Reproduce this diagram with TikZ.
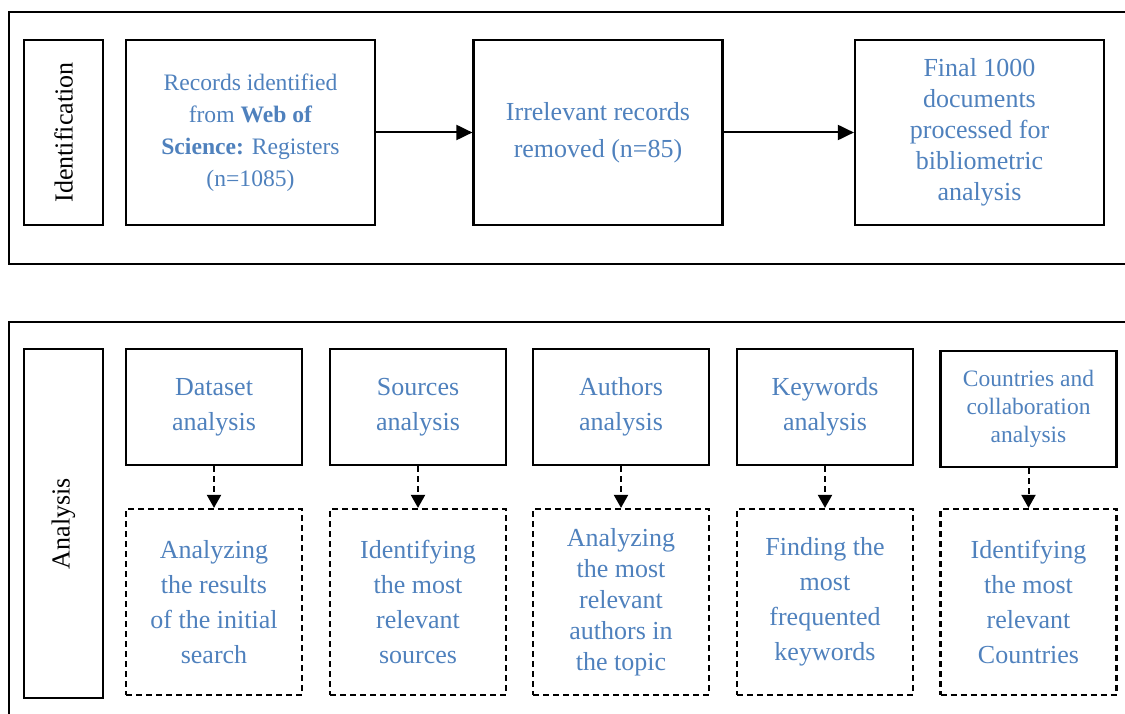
\documentclass[tikz,border=0pt]{standalone}
\usepackage{fontspec}
\setmainfont{Liberation Serif}
\usetikzlibrary{arrows.meta}

\definecolor{textblue}{RGB}{79,129,189}

\tikzset{
    frame/.style={line width=2.2pt},
    tag/.style={draw, line width=1.5pt, rotate=90, minimum height=79pt, inner sep=0pt,
        font=\fontsize{26}{30}\selectfont},
    stage/.style={draw, line width=2.2pt, text=textblue, align=center, inner sep=0pt,
        minimum width=249pt, minimum height=185pt},
    topic/.style={draw, line width=2.2pt, text=textblue, align=center, inner sep=0pt,
        minimum width=176pt, minimum height=116pt, font=\fontsize{26}{35}\selectfont},
    result/.style={topic, dash pattern=on 6pt off 4pt, minimum height=186pt},
    flow/.style={-{Triangle[length=16pt,width=15pt]}, line width=2pt},
    dflow/.style={-{Triangle[length=13pt,width=14pt]}, line width=2pt, dash pattern=on 6pt off 4pt}
}

\begin{document}
\begin{tikzpicture}[x=1pt, y=-1pt]
    \clip (0,0) rectangle (1125,714);
    \useasboundingbox (0,0) rectangle (1125,714);

    % outer frames
    \draw[frame] (9,12) rectangle (1140,264);
    \draw[frame] (9,322) rectangle (1140,740);

    % identification
    \node[tag, minimum width=185pt] (ident) at (63.5,132.5) {Identification};
    \node[stage, font=\fontsize{23.6}{32}\selectfont] (records) at (250.5,132.5)
        {Records identified\\from \textbf{Web of}\\\textbf{Science:} Registers\\(n=1085)};
    \node[stage, font=\fontsize{26}{37}\selectfont] (removed) at (598,132.5)
        {Irrelevant records\\removed (n=85)};
    \node[stage, font=\fontsize{26}{31}\selectfont] (final) at (979.5,132.5)
        {Final 1000\\documents\\processed for\\bibliometric\\analysis};

    \draw[flow] (records) -- (removed);
    \draw[flow] (removed) -- (final);

    % analysis
    \node[tag, minimum width=349pt] (anal) at (63.5,523.5) {Analysis};

    \node[topic] (dataset) at (214,407) {Dataset\\analysis};
    \node[topic] (sources) at (418,407) {Sources\\analysis};
    \node[topic] (authors) at (621,407) {Authors\\analysis};
    \node[topic] (keywords) at (825,407) {Keywords\\analysis};
    \node[topic, font=\fontsize{23.5}{28}\selectfont] (countries) at (1028.5,409)
        {Countries and\\collaboration\\analysis};

    \node[result] (datasetres) at (214,602)
        {Analyzing\\the results\\of the initial\\search};
    \node[result] (sourcesres) at (418,602)
        {Identifying\\the most\\relevant\\sources};
    \node[result, font=\fontsize{26}{31}\selectfont] (authorsres) at (621,602)
        {Analyzing\\the most\\relevant\\authors in\\the topic};
    \node[result] (keywordsres) at (825,602)
        {Finding the\\most\\frequented\\keywords};
    \node[result] (countriesres) at (1028.5,602)
        {Identifying\\the most\\relevant\\Countries};

    \draw[dflow] (dataset) -- (datasetres);
    \draw[dflow] (sources) -- (sourcesres);
    \draw[dflow] (authors) -- (authorsres);
    \draw[dflow] (keywords) -- (keywordsres);
    \draw[dflow] (countries) -- (countriesres);
\end{tikzpicture}
\end{document}
